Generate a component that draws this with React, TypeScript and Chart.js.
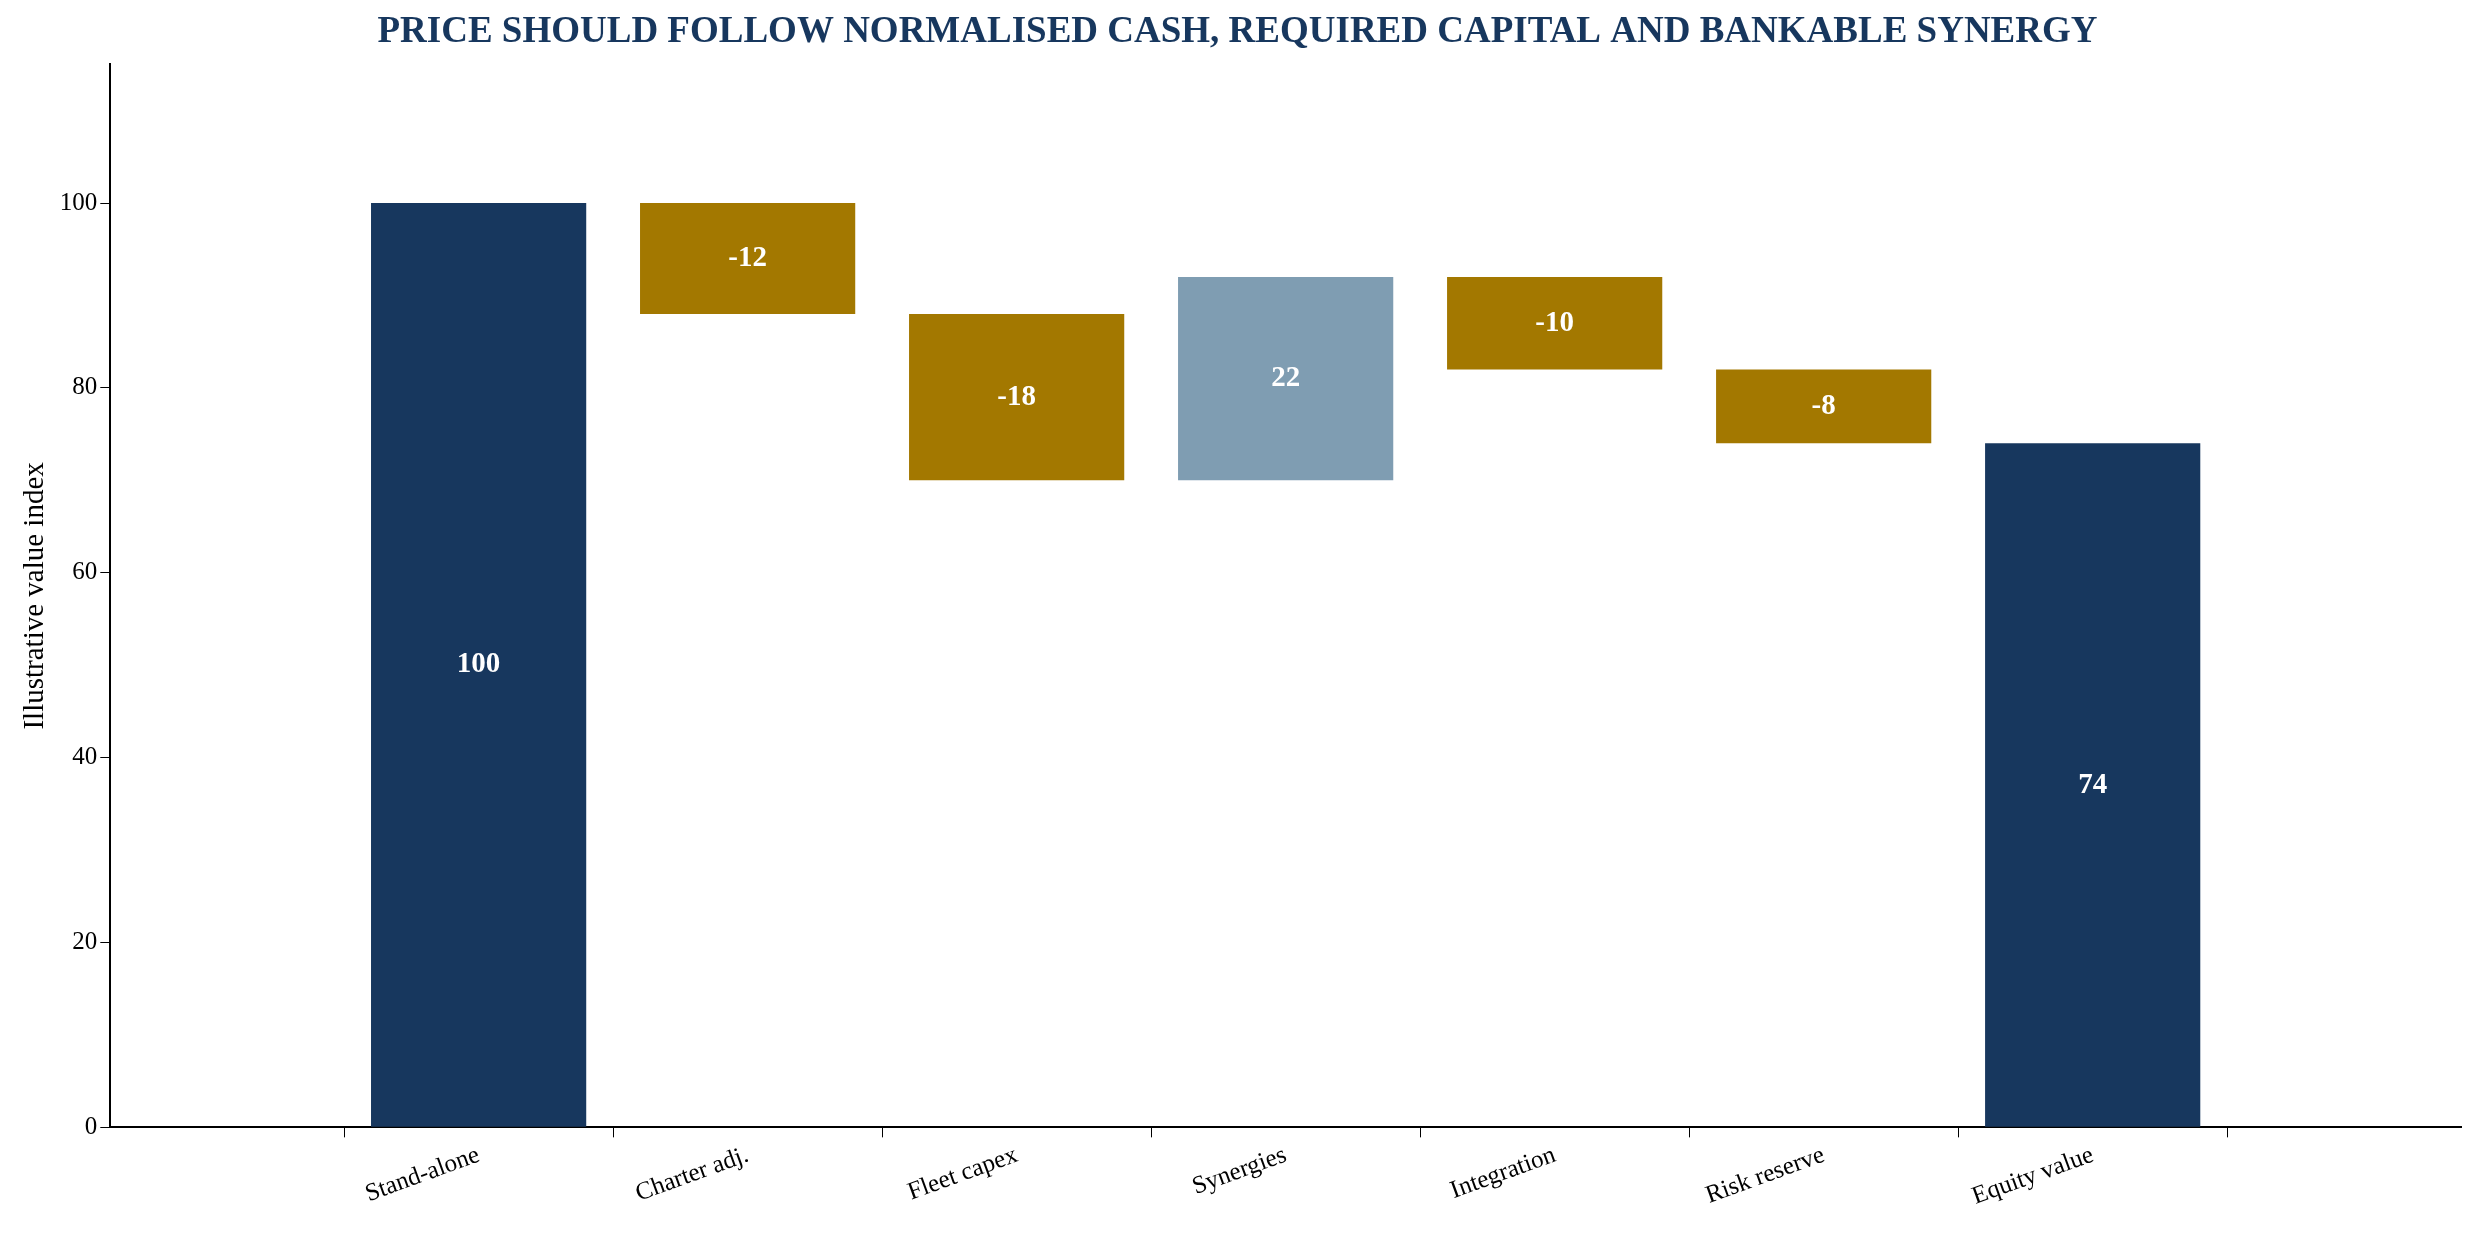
import React, { useEffect, useRef } from "react";
import { Chart, registerables } from "chart.js";
Chart.register(...registerables);

const categories = ["Stand-alone", "Charter adj.", "Fleet capex", "Synergies", "Integration", "Risk reserve", "Equity value"];
const lows = [0, 88, 70, 70, 82, 74, 0];
const highs = [100, 100, 88, 92, 92, 82, 74];
const labels = ["100", "-12", "-18", "22", "-10", "-8", "74"];
const colors = ["#17375e", "#a37800", "#a37800", "#7f9db2", "#a37800", "#a37800", "#17375e"];

const FONT = "'Liberation Serif', 'Times New Roman', serif";

const labelPlugin = {
  id: "barLabels",
  afterDatasetsDraw(chart: any) {
    const ctx = chart.ctx;
    const meta = chart.getDatasetMeta(0);
    ctx.save();
    ctx.fillStyle = "#ffffff";
    ctx.font = `bold 29px ${FONT}`;
    ctx.textAlign = "center";
    ctx.textBaseline = "middle";
    meta.data.forEach((bar: any, i: number) => {
      const y = (bar.y + bar.base) / 2;
      ctx.fillText(labels[i], bar.x, y);
    });
    ctx.restore();
  },
};

export default function App() {
  const ref = useRef<HTMLCanvasElement>(null);
  useEffect(() => {
    const chart = new Chart(ref.current!, {
      type: "bar",
      data: {
        datasets: [{
          data: lows.map((l, i) => ({ x: i, y: [l, highs[i]] })) as any,
          backgroundColor: colors,
          barPercentage: 0.8,
          categoryPercentage: 1,
        }],
      },
      options: {
        animation: false,
        responsive: false,
        devicePixelRatio: 1,
        layout: { padding: { top: 4, right: 20, left: 14, bottom: 34 } },
        plugins: {
          legend: { display: false },
          tooltip: { enabled: false },
          title: {
            display: true,
            text: "PRICE SHOULD FOLLOW NORMALISED CASH, REQUIRED CAPITAL AND BANKABLE SYNERGY",
            color: "#17375e",
            font: { family: FONT, size: 37, weight: "bold" },
            padding: { top: 6, bottom: 10 },
          },
        },
        scales: {
          x: {
            type: "linear",
            min: -0.745,
            max: 6.745,
            afterBuildTicks: (s: any) => { s.ticks = categories.map((_, i) => ({ value: i })); },
            grid: { display: true, drawOnChartArea: false, tickLength: 10, color: "#000" },
            border: { color: "#000", width: 2 },
            ticks: {
              color: "#000", font: { family: FONT, size: 25 }, maxRotation: 20, minRotation: 20,
              callback: (v: any) => categories[Math.round(v)] ?? "",
            },
          },
          y: {
            min: 0, max: 115,
            afterBuildTicks: (s: any) => { s.ticks = [0, 20, 40, 60, 80, 100].map((v) => ({ value: v })); },
            grid: { display: true, drawOnChartArea: false, tickLength: 10, color: "#000" },
            border: { color: "#000", width: 2 },
            ticks: { color: "#000", font: { family: FONT, size: 25 } },
            title: { display: true, text: "Illustrative value index", color: "#000", font: { family: FONT, size: 29 } },
          },
        },
      },
      plugins: [labelPlugin],
    });
    return () => chart.destroy();
  }, []);
  return (
    <div style={{ position: "fixed", left: 0, top: 0, background: "#fff" }}>
      <canvas ref={ref} width={2481} height={1249} />
    </div>
  );
}
